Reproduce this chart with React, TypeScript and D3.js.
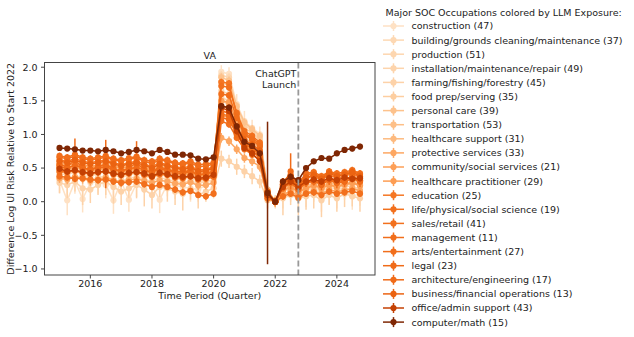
import * as d3 from 'd3';

// quarters on the x axis
const quarters = [
  '2015Q1', '2015Q2', '2015Q3', '2015Q4', '2016Q1', '2016Q2', '2016Q3', '2016Q4',
  '2017Q1', '2017Q2', '2017Q3', '2017Q4', '2018Q1', '2018Q2', '2018Q3', '2018Q4',
  '2019Q1', '2019Q2', '2019Q3', '2019Q4', '2020Q1', '2020Q2', '2020Q3', '2020Q4',
  '2021Q1', '2021Q2', '2021Q3', '2021Q4', '2022Q1', '2022Q2', '2022Q3', '2022Q4',
  '2023Q1', '2023Q2', '2023Q3', '2023Q4', '2024Q1', '2024Q2', '2024Q3', '2024Q4',
];

const occupations = [
  'construction', 'building/grounds cleaning/maintenance', 'production',
  'installation/maintenance/repair', 'farming/fishing/forestry', 'food prep/serving',
  'personal care', 'transportation', 'healthcare support', 'protective services',
  'community/social services', 'healthcare practitioner', 'education',
  'life/physical/social science', 'sales/retail', 'management', 'arts/entertainment',
  'legal', 'architecture/engineering', 'business/financial operations',
  'office/admin support', 'computer/math',
];
const socCodes = [47, 37, 51, 49, 45, 35, 39, 53, 31, 33, 21, 29, 25, 19, 41, 11, 27, 23, 17, 13, 43, 15];
const llmExposure = [0.15, 0.2, 0.21, 0.22, 0.23, 0.25, 0.3, 0.31, 0.33, 0.4, 0.43, 0.44, 0.58, 0.6, 0.6, 0.61, 0.61, 0.62, 0.62, 0.65, 0.8, 1.0];

const construction = [0.32, 0.02, 0.30, 0.04, 0.28, 0.30, 0.25, 0.02, 0.30, 0.03, 0.27, 0.28, 0.22, 0.03, 0.26, 0.24, 0.22, 0.20, 0.18, 0.25, 0.30, 1.93, 1.90, 1.45, 1.20, 1.10, 1.00, 0.18, 0, 0.10, 0.15, 0.05, 0.12, 0.15, 0.05, 0.14, 0.10, 0.18, 0.08, 0.12];
const building = [0.36, 0.38, 0.35, 0.40, 0.33, 0.36, 0.38, 0.32, 0.30, 0.35, 0.37, 0.33, 0.30, 0.36, 0.33, 0.30, 0.28, 0.31, 0.27, 0.30, 0.32, 1.55, 1.50, 1.25, 1.00, 0.95, 0.85, 0.10, 0, 0.15, 0.20, 0.10, 0.18, 0.20, 0.15, 0.22, 0.18, 0.20, 0.16, 0.22];
const production = [0.52, 0.50, 0.55, 0.50, 0.48, 0.50, 0.52, 0.47, 0.45, 0.48, 0.50, 0.46, 0.42, 0.48, 0.46, 0.43, 0.42, 0.44, 0.38, 0.40, 0.45, 1.88, 1.85, 1.40, 1.15, 1.05, 0.95, 0.15, 0, 0.20, 0.28, 0.18, 0.25, 0.28, 0.22, 0.30, 0.25, 0.28, 0.30, 0.26];
const installation = [0.42, 0.40, 0.45, 0.42, 0.38, 0.42, 0.44, 0.40, 0.36, 0.40, 0.42, 0.38, 0.35, 0.40, 0.38, 0.34, 0.33, 0.36, 0.30, 0.32, 0.38, 1.65, 1.60, 1.30, 1.05, 0.98, 0.88, 0.12, 0, 0.18, 0.22, 0.15, 0.20, 0.22, 0.18, 0.25, 0.20, 0.24, 0.22, 0.20];
const farming = [0.28, 0.25, 0.30, 0.20, 0.18, 0.25, 0.30, 0.22, 0.15, 0.20, 0.25, 0.18, 0.10, 0.22, 0.20, 0.15, 0.12, 0.18, 0.10, 0.15, 0.20, 0.64, 0.60, 0.52, 0.45, 0.38, 0.30, 0.02, 0, 0.05, 0.10, 0.05, 0.08, 0.10, 0.02, 0.10, 0.05, 0.12, 0.08, 0.05];
const foodPrep = [0.55, 0.52, 0.58, 0.55, 0.50, 0.53, 0.56, 0.52, 0.48, 0.52, 0.54, 0.50, 0.46, 0.52, 0.50, 0.46, 0.45, 0.48, 0.42, 0.44, 0.48, 1.78, 1.72, 1.35, 1.10, 1.02, 0.92, 0.15, 0, 0.22, 0.30, 0.20, 0.28, 0.30, 0.25, 0.32, 0.28, 0.30, 0.33, 0.28];
const personalCare = [0.58, 0.55, 0.60, 0.56, 0.52, 0.55, 0.58, 0.54, 0.50, 0.54, 0.56, 0.52, 0.48, 0.54, 0.52, 0.48, 0.47, 0.50, 0.44, 0.46, 0.50, 1.85, 1.80, 1.42, 1.18, 1.08, 0.98, 0.18, 0, 0.25, 0.32, 0.22, 0.30, 0.32, 0.28, 0.35, 0.30, 0.34, 0.36, 0.32];
const transportation = [0.48, 0.46, 0.50, 0.47, 0.44, 0.46, 0.49, 0.45, 0.42, 0.45, 0.47, 0.44, 0.40, 0.45, 0.43, 0.40, 0.39, 0.42, 0.36, 0.38, 0.42, 1.50, 1.45, 1.18, 0.95, 0.88, 0.80, 0.12, 0, 0.20, 0.26, 0.18, 0.24, 0.26, 0.22, 0.28, 0.25, 0.27, 0.29, 0.25];
const healthSupport = [0.45, 0.43, 0.47, 0.44, 0.41, 0.43, 0.46, 0.42, 0.39, 0.42, 0.44, 0.41, 0.37, 0.42, 0.40, 0.37, 0.36, 0.39, 0.33, 0.35, 0.38, 1.30, 1.25, 1.05, 0.85, 0.78, 0.70, 0.10, 0, 0.18, 0.24, 0.15, 0.22, 0.25, 0.20, 0.26, 0.22, 0.25, 0.27, 0.24];
const protective = [0.35, 0.33, 0.37, 0.34, 0.31, 0.33, 0.36, 0.32, 0.29, 0.32, 0.34, 0.31, 0.28, 0.32, 0.30, 0.27, 0.26, 0.29, 0.24, 0.25, 0.28, 0.95, 0.90, 0.78, 0.65, 0.60, 0.52, 0.05, 0, 0.10, 0.16, 0.08, 0.14, 0.16, 0.12, 0.18, 0.15, 0.17, 0.20, 0.16];
const community = [0.55, 0.57, 0.53, 0.55, 0.52, 0.54, 0.50, 0.53, 0.50, 0.52, 0.49, 0.50, 0.47, 0.50, 0.48, 0.46, 0.45, 0.47, 0.43, 0.44, 0.46, 1.50, 1.48, 1.20, 1.00, 0.92, 0.84, 0.14, 0, 0.22, 0.30, 0.20, 0.30, 0.33, 0.28, 0.34, 0.30, 0.33, 0.36, 0.32];
const healthPract = [0.50, 0.48, 0.52, 0.49, 0.46, 0.48, 0.50, 0.46, 0.44, 0.47, 0.49, 0.45, 0.42, 0.47, 0.44, 0.41, 0.40, 0.43, 0.38, 0.39, 0.42, 1.28, 1.25, 1.02, 0.84, 0.78, 0.68, 0.10, 0, 0.16, 0.22, 0.14, 0.20, 0.24, 0.20, 0.25, 0.22, 0.26, 0.28, 0.24];
const education = [0.62, 0.60, 0.64, 0.60, 0.58, 0.60, 0.62, 0.58, 0.55, 0.58, 0.60, 0.56, 0.52, 0.58, 0.55, 0.52, 0.50, 0.53, 0.47, 0.48, 0.52, 1.78, 1.76, 1.30, 1.02, 0.95, 0.85, 0.12, 0, 0.25, 0.35, 0.22, 0.35, 0.38, 0.32, 0.40, 0.35, 0.38, 0.42, 0.36];
const science = [0.38, 0.36, 0.34, 0.35, 0.33, 0.32, 0.33, 0.30, 0.28, 0.29, 0.30, 0.26, 0.22, 0.25, 0.22, 0.18, 0.14, 0.16, 0.10, 0.08, 0.12, 1.20, 1.15, 0.95, 0.78, 0.70, 0.62, 0.05, 0, 0.08, 0.12, 0.06, 0.12, 0.14, 0.10, 0.15, 0.12, 0.14, 0.16, 0.12];
const sales = [0.66, 0.64, 0.68, 0.64, 0.62, 0.64, 0.66, 0.62, 0.60, 0.63, 0.65, 0.60, 0.57, 0.62, 0.60, 0.56, 0.55, 0.58, 0.52, 0.53, 0.56, 1.72, 1.70, 1.32, 1.05, 0.98, 0.88, 0.15, 0, 0.28, 0.38, 0.25, 0.40, 0.42, 0.36, 0.44, 0.40, 0.42, 0.46, 0.40];
const management = [0.45, 0.44, 0.46, 0.43, 0.42, 0.44, 0.45, 0.41, 0.40, 0.42, 0.44, 0.40, 0.37, 0.41, 0.40, 0.36, 0.35, 0.38, 0.33, 0.34, 0.37, 1.35, 1.32, 1.08, 0.88, 0.80, 0.72, 0.10, 0, 0.20, 0.28, 0.18, 0.28, 0.30, 0.26, 0.32, 0.28, 0.30, 0.34, 0.30];
const arts = [0.68, 0.66, 0.70, 0.66, 0.64, 0.66, 0.68, 0.64, 0.62, 0.65, 0.67, 0.62, 0.60, 0.64, 0.62, 0.58, 0.57, 0.60, 0.55, 0.56, 0.58, 1.60, 1.58, 1.25, 1.00, 0.92, 0.82, 0.15, 0, 0.30, 0.40, 0.28, 0.42, 0.44, 0.38, 0.45, 0.42, 0.44, 0.47, 0.42];
const legal = [0.55, 0.52, 0.62, 0.50, 0.48, 0.52, 0.56, 0.49, 0.45, 0.50, 0.58, 0.47, 0.44, 0.52, 0.48, 0.45, 0.44, 0.46, 0.40, 0.42, 0.45, 1.30, 1.28, 1.05, 0.85, 0.80, 0.70, 0.08, 0, 0.25, 0.45, 0.20, 0.30, 0.32, 0.25, 0.33, 0.28, 0.30, 0.40, 0.30];
const architecture = [0.52, 0.50, 0.54, 0.51, 0.48, 0.50, 0.52, 0.48, 0.46, 0.49, 0.51, 0.47, 0.44, 0.49, 0.46, 0.43, 0.42, 0.45, 0.40, 0.41, 0.44, 1.25, 1.22, 1.00, 0.82, 0.75, 0.66, 0.10, 0, 0.22, 0.30, 0.20, 0.30, 0.32, 0.26, 0.34, 0.30, 0.32, 0.36, 0.32];
const business = [0.60, 0.58, 0.62, 0.58, 0.56, 0.58, 0.60, 0.56, 0.53, 0.56, 0.58, 0.54, 0.50, 0.56, 0.53, 0.50, 0.48, 0.51, 0.45, 0.46, 0.50, 1.42, 1.40, 1.12, 0.92, 0.85, 0.76, 0.12, 0, 0.26, 0.36, 0.24, 0.36, 0.40, 0.34, 0.42, 0.38, 0.40, 0.44, 0.38];
const officeAdmin = [0.49, 0.45, 0.47, 0.44, 0.42, 0.44, 0.45, 0.42, 0.40, 0.43, 0.44, 0.42, 0.38, 0.43, 0.41, 0.38, 0.37, 0.38, 0.35, 0.36, 0.40, 1.40, 1.35, 1.05, 0.80, 0.72, 0.60, 0.10, 0, 0.22, 0.30, 0.22, 0.30, 0.33, 0.30, 0.35, 0.32, 0.36, 0.34, 0.35];
const computerMath = [0.80, 0.79, 0.78, 0.76, 0.76, 0.75, 0.77, 0.75, 0.72, 0.74, 0.77, 0.75, 0.72, 0.77, 0.74, 0.70, 0.70, 0.69, 0.64, 0.63, 0.66, 1.42, 1.40, 1.12, 0.89, 0.83, 0.72, 0.13, 0, 0.30, 0.37, 0.32, 0.50, 0.60, 0.65, 0.64, 0.72, 0.77, 0.79, 0.82];

// 95% interval half-widths: explicit where the bars stand out, typical size elsewhere
const constructionErr = [0.2, 0.22, 0.18, 0.2, 0.15, 0.18, 0.2, 0.2, 0.15, 0.18, 0.2, 0.15, 0.2, 0.2, 0.18, 0.2, 0.15, 0.2, 0.18, 0.15, 0.15, 0.1, 0.1, 0.15, 0.15, 0.12, 0.12, 0.15, 0, 0.2, 0.15, 0.2, 0.2, 0.15, 0.2, 0.18, 0.2, 0.15, 0.2, 0.18];
const farmingErr = [0.15, 0.2, 0.15, 0.25, 0.2, 0.15, 0.2, 0.25, 0.2, 0.15, 0.2, 0.25, 0.2, 0.15, 0.2, 0.2, 0.25, 0.15, 0.2, 0.15, 0.15, 0.12, 0.1, 0.12, 0.1, 0.12, 0.1, 0.12, 0, 0.25, 0.15, 0.25, 0.2, 0.2, 0.25, 0.15, 0.2, 0.2, 0.15, 0.2];
const legalErr = [0.1, 0.08, 0.32, 0.08, 0.1, 0.08, 0.36, 0.08, 0.1, 0.08, 0.32, 0.08, 0.1, 0.08, 0.1, 0.08, 0.1, 0.08, 0.1, 0.08, 0.08, 0.08, 0.08, 0.08, 0.08, 0.08, 0.08, 0.1, 0, 0.1, 0.27, 0.1, 0.08, 0.08, 0.08, 0.08, 0.08, 0.08, 0.1, 0.08];
const computerMathErr = [0.03, 0.03, 0.03, 0.03, 0.03, 0.03, 0.03, 0.03, 0.03, 0.03, 0.03, 0.03, 0.03, 0.03, 0.03, 0.03, 0.03, 0.03, 0.03, 0.03, 0.03, 0.04, 0.04, 0.04, 0.04, 0.04, 0.04, 1.06, 0, 0.05, 0.05, 0.05, 0.04, 0.04, 0.04, 0.04, 0.04, 0.04, 0.04, 0.04];
const typicalErr = [0, 0.1, 0.06, 0.08, 0, 0.06, 0.06, 0.06, 0.07, 0.07, 0.06, 0.07, 0.05, 0.05, 0.05, 0.05, 0.05, 0, 0.05, 0.05, 0.05, 0];

const seriesValues = [
  construction, building, production, installation, farming, foodPrep, personalCare,
  transportation, healthSupport, protective, community, healthPract, education, science,
  sales, management, arts, legal, architecture, business, officeAdmin, computerMath,
];
const seriesErrors: Record<number, number[]> = { 0: constructionErr, 4: farmingErr, 17: legalErr, 21: computerMathErr };

const xTicks = [2016, 2018, 2020, 2022, 2024];
const yTicks = [-1, -0.5, 0, 0.5, 1, 1.5, 2];
const chatGptLaunch = '2022Q4';

const W = 634;
const H = 337;
const plot = { left: 44.5, right: 375, top: 62.5, bottom: 275 };
const FONT = 'DejaVu Sans, sans-serif';

const qTime = (q: string) => +q.slice(0, 4) + (+q.slice(5) - 1) / 4;

export default function App() {
  const times = quarters.map(qTime);
  const span = times[times.length - 1] - times[0];
  const x = d3
    .scaleLinear()
    .domain([times[0] - span * 0.05, times[times.length - 1] + span * 0.05])
    .range([plot.left, plot.right]);
  const y = d3.scaleLinear().domain([-1.09, 2.07]).range([plot.bottom, plot.top]);

  const color = (e: number) => d3.interpolateOranges(e);

  const line = d3
    .line<number>()
    .x((_, i) => x(times[i]))
    .y((d) => y(d));

  const fmt = d3.format('.1f');
  const launchX = x(qTime(chatGptLaunch));
  const rowY = (i: number) => 26 + i * 14.1;

  return (
    <svg
      width={W}
      height={H}
      style={{ position: 'absolute', left: 0, top: 0, background: '#fff' }}
      fontFamily={FONT}
    >
      {/* series: error bars, line, markers */}
      {seriesValues.map((vals, s) => {
        const c = color(llmExposure[s]);
        const errs = seriesErrors[s];
        return (
          <g key={occupations[s]}>
            {vals.map((v, i) => {
              const e = errs ? errs[i] : typicalErr[s];
              if (!e) return null;
              return (
                <line
                  key={i}
                  x1={x(times[i])}
                  x2={x(times[i])}
                  y1={y(v - e)}
                  y2={y(v + e)}
                  stroke={c}
                  strokeWidth={1.5}
                />
              );
            })}
            <path d={line(vals) ?? ''} fill="none" stroke={c} strokeWidth={1.5} />
            {vals.map((v, i) => (
              <circle key={i} cx={x(times[i])} cy={y(v)} r={3.1} fill={c} />
            ))}
          </g>
        );
      })}

      {/* ChatGPT launch marker */}
      <line
        x1={launchX}
        x2={launchX}
        y1={plot.top}
        y2={plot.bottom}
        stroke="#999"
        strokeWidth={1.8}
        strokeDasharray="6 3"
      />
      <text x={launchX - 2} y={77} textAnchor="end" fontSize={9.5} fill="#222">
        ChatGPT
      </text>
      <text x={launchX - 2} y={88} textAnchor="end" fontSize={9.5} fill="#222">
        Launch
      </text>

      {/* frame */}
      <rect
        x={plot.left}
        y={plot.top}
        width={plot.right - plot.left}
        height={plot.bottom - plot.top}
        fill="none"
        stroke="#444"
        strokeWidth={1}
      />

      {/* axes */}
      {xTicks.map((t) => (
        <g key={t}>
          <line x1={x(t)} x2={x(t)} y1={plot.bottom} y2={plot.bottom + 3.5} stroke="#444" />
          <text x={x(t)} y={plot.bottom + 11.8} textAnchor="middle" fontSize={9.5} fill="#222">
            {t}
          </text>
        </g>
      ))}
      {yTicks.map((t) => (
        <g key={t}>
          <line x1={plot.left - 3.5} x2={plot.left} y1={y(t)} y2={y(t)} stroke="#444" />
          <text x={plot.left - 7} y={y(t) + 3.4} textAnchor="end" fontSize={9.5} fill="#222">
            {fmt(t)}
          </text>
        </g>
      ))}
      <text x={(plot.left + plot.right) / 2} y={298.5} textAnchor="middle" fontSize={9.5} fill="#222">
        Time Period (Quarter)
      </text>
      <text
        transform={`translate(13.5, ${(plot.top + plot.bottom) / 2}) rotate(-90)`}
        textAnchor="middle"
        fontSize={9.5}
        fill="#222"
      >
        Difference Log UI Risk Relative to Start 2022
      </text>
      <text x={(plot.left + plot.right) / 2} y={59} textAnchor="middle" fontSize={9.5} fill="#222">
        VA
      </text>

      {/* legend */}
      <text x={385.5} y={16} fontSize={9.5} fill="#222">
        Major SOC Occupations colored by LLM Exposure:
      </text>
      {occupations.map((name, i) => {
        const c = color(llmExposure[i]);
        const cy = rowY(i);
        return (
          <g key={name}>
            <line x1={383} x2={404} y1={cy} y2={cy} stroke={c} strokeWidth={1.5} />
            <line x1={393.5} x2={393.5} y1={cy - 5} y2={cy + 5} stroke={c} strokeWidth={1.5} />
            <circle cx={393.5} cy={cy} r={3.1} fill={c} />
            <text x={411.5} y={cy + 3.4} fontSize={9.5} fill="#222">
              {`${name} (${socCodes[i]})`}
            </text>
          </g>
        );
      })}
    </svg>
  );
}
